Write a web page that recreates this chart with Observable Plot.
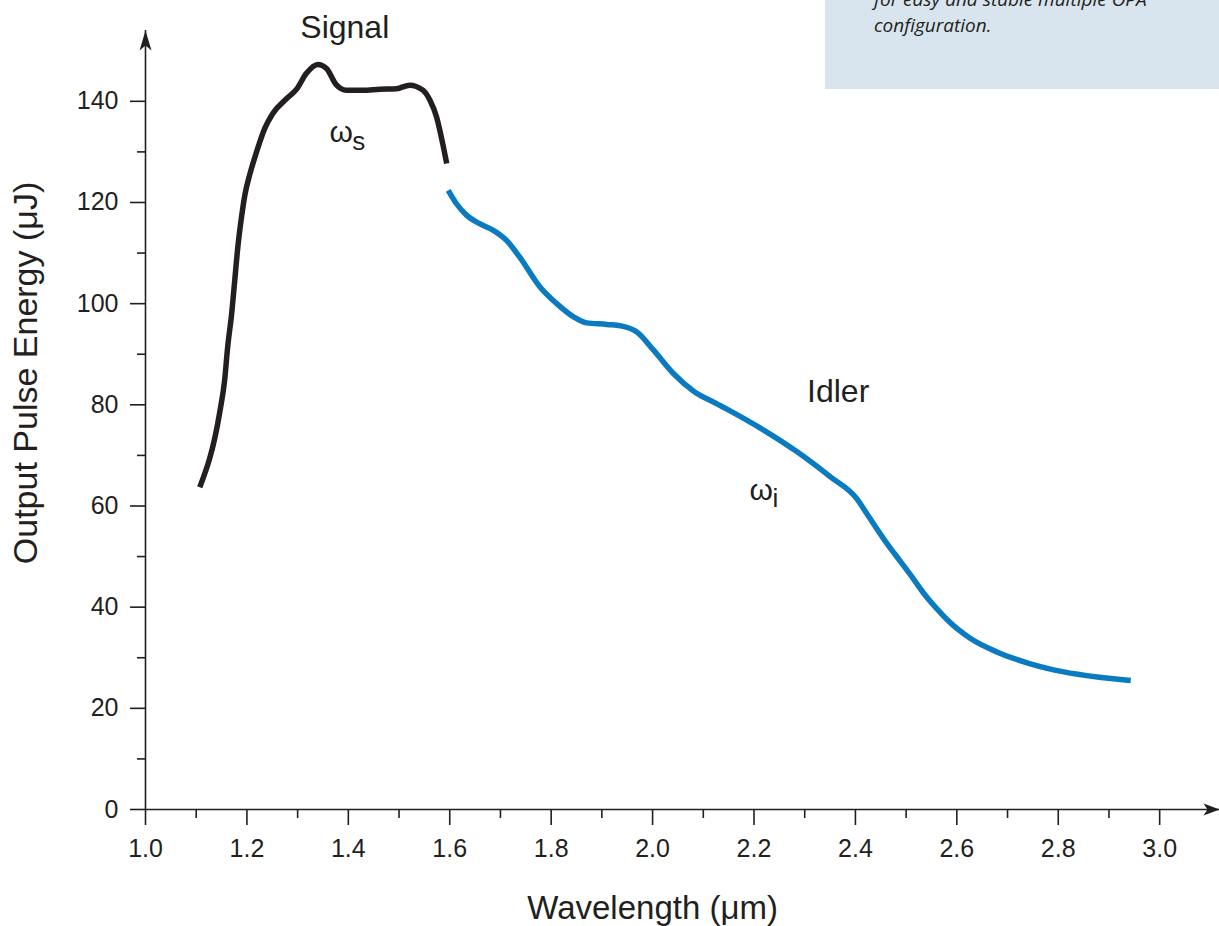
<!DOCTYPE html>
<html>
<head>
<meta charset="utf-8">
<script src="https://cdn.jsdelivr.net/npm/d3@7"></script>
<script src="https://cdn.jsdelivr.net/npm/@observablehq/plot@0.6"></script>
<style>
  html, body { margin: 0; padding: 0; background: #ffffff; }
  #wrap { position: relative; width: 1219px; height: 926px; overflow: hidden; }
  #note { position: absolute; left: 825px; top: 0; width: 394px; height: 89px; background: #d9e5ee; overflow: hidden;
          font-family: "Open Sans", "DejaVu Sans", sans-serif; font-style: italic; font-size: 19px; color: #231f20; }
  #note div { position: absolute; left: 49px; top: -14px; white-space: nowrap; line-height: 26px; }
</style>
</head>
<body>
<div id="wrap">
  <div id="chart"></div>
  <div id="note"><div>for easy and stable multiple OPA<br>configuration.</div></div>
</div>
<script>
// ---- data ----
const signalX = [1.107, 1.146, 1.156, 1.162, 1.170, 1.176, 1.182, 1.190, 1.196, 1.205, 1.219, 1.235, 1.251, 1.278, 1.298, 1.317, 1.340, 1.357, 1.376, 1.396, 1.428, 1.462, 1.495, 1.521, 1.547, 1.561, 1.574, 1.586, 1.594];
const signalY = [63.7, 78.3, 84.8, 91.4, 98.1, 104.6, 111.1, 117.6, 121.5, 125.3, 130.0, 134.6, 137.6, 140.5, 142.4, 145.5, 147.3, 146.5, 143.3, 142.2, 142.2, 142.4, 142.5, 143.2, 142.2, 140.2, 136.9, 131.7, 127.7];

const idlerX = [1.597, 1.613, 1.633, 1.659, 1.686, 1.712, 1.738, 1.778, 1.811, 1.844, 1.870, 1.910, 1.942, 1.969, 2.002, 2.041, 2.081, 2.127, 2.153, 2.219, 2.285, 2.350, 2.403, 2.423, 2.462, 2.489, 2.515, 2.535, 2.564, 2.581, 2.627, 2.680, 2.745, 2.811, 2.877, 2.943];
const idlerY = [122.4, 119.8, 117.5, 115.8, 114.5, 112.5, 109.2, 103.3, 100.0, 97.4, 96.2, 95.9, 95.5, 94.4, 90.8, 86.2, 82.7, 80.2, 78.8, 75.0, 70.7, 65.8, 61.4, 58.4, 52.6, 49.0, 45.5, 42.7, 39.3, 37.5, 33.8, 31.1, 28.8, 27.2, 26.2, 25.5];

const xTicks = [1.0, 1.2, 1.4, 1.6, 1.8, 2.0, 2.2, 2.4, 2.6, 2.8, 3.0];
const xMinorTicks = [1.1, 1.3, 1.5, 1.7, 1.9, 2.1, 2.3, 2.5, 2.7, 2.9];
const yTicks = [0, 20, 40, 60, 80, 100, 120, 140];
const yMinorTicks = [10, 30, 50, 70, 90, 110, 130];

const xDomain = [1.0, 3.118];
const yDomain = [0, 154];

const labels = [
  {text: "Signal", x: 1.393, y: 152.6, size: 32},
  {text: "Idler", x: 2.366, y: 80.5, size: 32},
  {text: "ω", x: 1.386, y: 132.0, size: 30},
  {text: "s", x: 1.4205, y: 130.3, size: 26},
  {text: "ω", x: 2.214, y: 61.1, size: 30},
  {text: "i", x: 2.2424, y: 59.8, size: 26}
];

const xTitle = "Wavelength (μm)";
const yTitle = "Output Pulse Energy (μJ)";

// ---- styling ----
const ink = "#231f20";
const blue = "#0b7bc1";
const font = "'Liberation Sans', Arial, Helvetica, sans-serif";

const arrowUp = {draw(ctx) { ctx.moveTo(0, 0); ctx.lineTo(6, 20); ctx.lineTo(0, 15); ctx.lineTo(-6, 20); ctx.closePath(); }};
const arrowRight = {draw(ctx) { ctx.moveTo(0, 0); ctx.lineTo(-16, 6); ctx.lineTo(-12, 0); ctx.lineTo(-16, -6); ctx.closePath(); }};

const chart = Plot.plot({
  width: 1219,
  height: 926,
  marginLeft: 145,
  marginRight: 0,
  marginTop: 30,
  marginBottom: 117,
  style: {fontFamily: font, background: "transparent", overflow: "visible", color: ink},
  x: {domain: xDomain, axis: null},
  y: {domain: yDomain, axis: null},
  marks: [
    // axes lines
    Plot.ruleX([xDomain[0]], {stroke: ink, strokeWidth: 1.6}),
    Plot.ruleY([yDomain[0]], {stroke: ink, strokeWidth: 1.6}),
    Plot.dot([0], {x: () => xDomain[0], y: () => yDomain[1], symbol: arrowUp, fill: ink, stroke: "none"}),
    Plot.dot([0], {x: () => xDomain[1], y: () => yDomain[0], symbol: arrowRight, fill: ink, stroke: "none"}),
    // ticks
    Plot.axisY(yTicks, {tickSize: 15, tickPadding: 12, fontSize: 25, stroke: ink, fill: ink, strokeWidth: 1.6, strokeOpacity: 1, label: null, tickFormat: d => String(d)}),
    Plot.axisY(yMinorTicks, {tickSize: 8, stroke: ink, strokeWidth: 1.6, strokeOpacity: 1, label: null, tickFormat: () => ""}),
    Plot.axisX(xTicks, {tickSize: 16, tickPadding: 14, fontSize: 25, stroke: ink, fill: ink, strokeWidth: 1.6, strokeOpacity: 1, label: null, tickFormat: d => d.toFixed(1)}),
    Plot.axisX(xMinorTicks, {tickSize: 9, stroke: ink, strokeWidth: 1.6, strokeOpacity: 1, label: null, tickFormat: () => ""}),
    // axis titles
    Plot.text([xTitle], {x: () => 2.0, frameAnchor: "bottom", dy: 109, lineAnchor: "bottom", textAnchor: "middle", text: d => d, fontSize: 33, fill: ink}),
    Plot.text([yTitle], {frameAnchor: "left", dx: -119, dy: -47, rotate: -90, textAnchor: "middle", lineAnchor: "middle", text: d => d, fontSize: 34, fill: ink}),
    // curves
    Plot.line(signalX, {x: signalX, y: signalY, stroke: ink, strokeWidth: 5.5, curve: "monotone-x", strokeLinecap: "butt"}),
    Plot.line(idlerX, {x: idlerX, y: idlerY, stroke: blue, strokeWidth: 5.5, curve: "monotone-x", strokeLinecap: "butt"}),
    // annotations
    Plot.text(labels, {x: "x", y: "y", text: "text", fontSize: d => d.size, lineAnchor: "bottom", textAnchor: "middle", fill: ink})
  ]
});
document.getElementById("chart").appendChild(chart);
</script>
</body>
</html>
